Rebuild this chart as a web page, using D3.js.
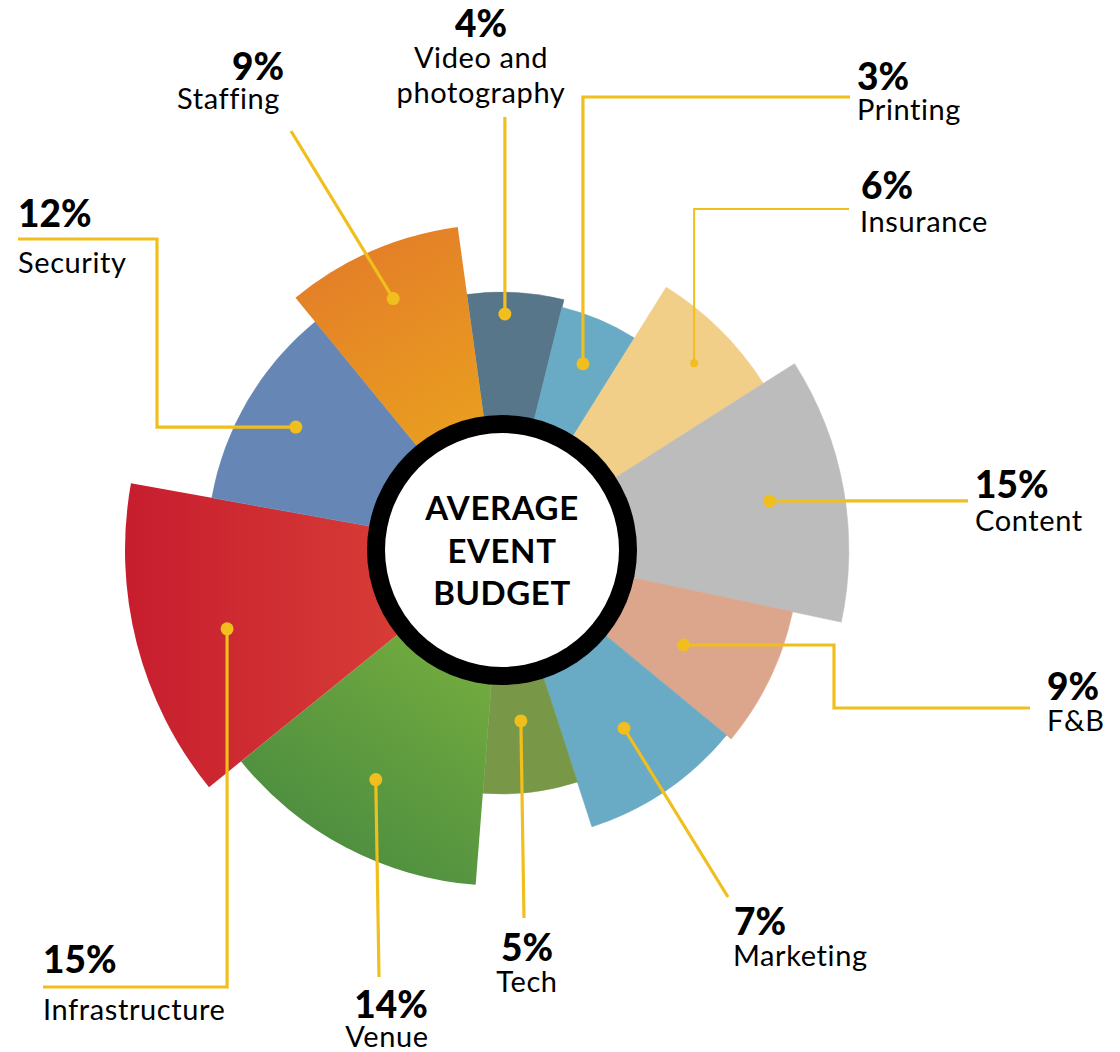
<!DOCTYPE html>
<html>
<head>
<meta charset="utf-8">
<script src="https://cdn.jsdelivr.net/npm/d3@7"></script>
<style>
  html, body { margin: 0; padding: 0; background: #ffffff; }
  svg { display: block; }
  .pct { font-family: Lato, "Open Sans", sans-serif; font-weight: 900; font-size: 37px; fill: #000; }
  .name { font-family: Lato, "Open Sans", sans-serif; font-weight: 400; font-size: 29px; letter-spacing: 0.6px; fill: #000; }
  .center { font-family: Lato, "Open Sans", sans-serif; font-weight: 700; font-size: 33px; letter-spacing: 0.6px; fill: #000; }
</style>
</head>
<body>
<svg id="chart" width="1120" height="1052"></svg>
<script>
// ---------- data ----------
const categories = ["Video and photography", "Printing", "Insurance", "Content", "F&B",
                    "Marketing", "Tech", "Venue", "Infrastructure", "Security", "Staffing"];
const percents   = [4, 3, 6, 15, 9, 7, 5, 14, 15, 12, 9];
// angular share of each petal (degrees) and outer extent (0-100 units), as drawn
const sweepDeg   = [21.7, 18.1, 25.5, 44.5, 27.5, 32.5, 22.5, 46.5, 49.2, 40.5, 31.5];
const extent     = [68.4, 66.3, 82.2, 92.0, 78.8, 77.2, 64.7, 89.1, 100, 78.2, 86.5];
const centerTitle = ["AVERAGE", "EVENT", "BUDGET"];

// ---------- styles ----------
const colors = ["#587689", "#69aac4", "#f1cf89", "#bcbcbc", "#dca68c",
                "#69aac4", "#789848", "url(#gVenue)", "url(#gInfra)", "#6687b6", "url(#gStaff)"];
const leaderColor = "#f0bf1d";

// ---------- layout (annotation placement) ----------
const cx = 502, cy = 550;
const startDeg = -7.8;
const labelLayout = [
  { dot: [0.7, 236],   steps: [["V", 117]], pct: [481, 36.5], name: [[481, 68], [481, 103]], anchor: "middle", lines: ["Video and", "photography"] },
  { dot: [23.5, 203],  steps: [["V", 97], ["H", 850]], pct: [857, 90], name: [[857, 120]], anchor: "start" },
  { dot: [45.8, 268],  steps: [["V", 209], ["H", 849]], pct: [861, 199], name: [[860, 232]], anchor: "start", thin: true },
  { dot: [79.6, 272],  steps: [["H", 968]], pct: [975, 498], name: [[975, 531]], anchor: "start" },
  { dot: [117.6, 205], steps: [["H", 834], ["V", 708], ["H", 1030]], pct: [1047, 700], name: [[1047, 731]], anchor: "start" },
  { dot: [145.6, 216], steps: [["L", 728, 897]], pct: [734, 935], name: [[733, 966]], anchor: "start" },
  { dot: [173.7, 172], steps: [["L", 524, 918]], pct: [527, 961], name: [[527, 992]], anchor: "middle" },
  { dot: [208.8, 262], steps: [["L", 379, 977]], pct: [391, 1018], name: [[387, 1047]], anchor: "middle" },
  { dot: [254, 286],   steps: [["V", 987], ["H", 43]], pct: [43, 973], name: [[43, 1020]], anchor: "start" },
  { dot: [300.8, 240], steps: [["H", 157], ["V", 239], ["H", 18]], pct: [18, 227], name: [[18, 273]], anchor: "start" },
  { dot: [336.6, 274], steps: [["L", 291, 131]], pct: [284, 80], name: [[280, 109]], anchor: "end" }
];

// ---------- build ----------
const rad = d => d * Math.PI / 180;
const svg = d3.select("#chart");

const defs = svg.append("defs");
function lin(id, x1, y1, x2, y2, stops) {
  const g = defs.append("linearGradient").attr("id", id)
    .attr("x1", x1).attr("y1", y1).attr("x2", x2).attr("y2", y2);
  stops.forEach(s => g.append("stop").attr("offset", s[0]).attr("stop-color", s[1]));
}
lin("gStaff", "0", "0", "0.35", "1", [[0, "#e3782a"], [1, "#eaa61d"]]);
lin("gVenue", "0.9", "0", "0.35", "1", [[0, "#80b63e"], [1, "#4a8b40"]]);
lin("gInfra", "0", "0", "1", "0", [[0, "#c71d2e"], [1, "#dd4839"]]);

const data = categories.map((c, i) => ({ name: c, pct: percents[i], sweep: sweepDeg[i], ext: extent[i], color: colors[i], layout: labelLayout[i] }));

const pie = d3.pie().sort(null).value(d => d.sweep)
  .startAngle(rad(startDeg)).endAngle(rad(startDeg + 360));
const rScale = d3.scaleLinear().domain([0, 100]).range([0, 377]);
const arc = d3.arc().innerRadius(0).outerRadius(d => rScale(d.data.ext));

const g = svg.append("g").attr("transform", `translate(${cx},${cy})`);
g.selectAll("path.petal").data(pie(data)).join("path")
  .attr("class", "petal")
  .attr("d", arc)
  .attr("fill", d => d.data.color)
  .attr("stroke", d => d.data.color.startsWith("url") ? "none" : d.data.color)
  .attr("stroke-width", 0.6);

// leaders
const ann = svg.append("g");
data.forEach(d => {
  const L = d.layout;
  const p = d3.pointRadial(rad(L.dot[0]), L.dot[1]);
  let x = cx + p[0], y = cy + p[1];
  const dx = x, dy = y;
  let path = `M${x},${y}`;
  L.steps.forEach(s => {
    if (s[0] === "V") { y = s[1]; }
    else if (s[0] === "H") { x = s[1]; }
    else { x = s[1]; y = s[2]; }
    path += `L${x},${y}`;
  });
  ann.append("path").attr("d", path).attr("fill", "none")
    .attr("stroke", leaderColor).attr("stroke-width", L.thin ? 2 : 3.2)
    .attr("stroke-linejoin", "miter");
  ann.append("circle").attr("cx", dx).attr("cy", dy).attr("r", L.thin ? 4 : 6.5).attr("fill", leaderColor);

  ann.append("text").attr("class", "pct").attr("x", L.pct[0]).attr("y", L.pct[1])
    .attr("text-anchor", L.anchor).text(d.pct + "%");
  const lines = L.lines || [d.name];
  lines.forEach((t, k) => {
    ann.append("text").attr("class", "name").attr("x", L.name[k][0]).attr("y", L.name[k][1])
      .attr("text-anchor", L.anchor).text(t);
  });
});

// center ring
svg.append("circle").attr("cx", cx).attr("cy", cy).attr("r", 135).attr("fill", "#000");
svg.append("circle").attr("cx", cx).attr("cy", cy).attr("r", 117).attr("fill", "#fff");
svg.append("g").selectAll("text").data(centerTitle).join("text")
  .attr("class", "center").attr("text-anchor", "middle")
  .attr("x", cx).attr("y", (d, i) => 520 + i * 42.5).text(d => d);
</script>
</body>
</html>
